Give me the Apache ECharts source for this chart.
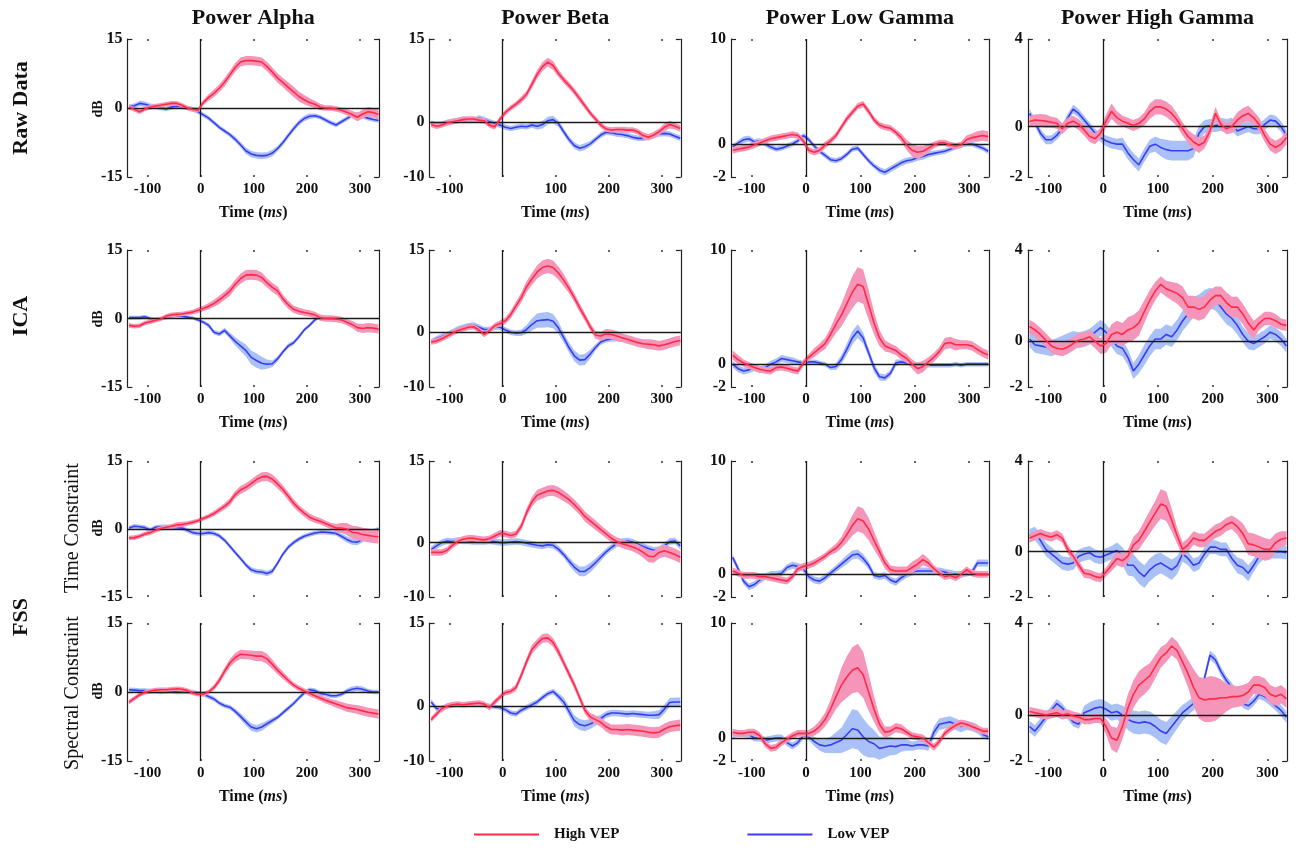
<!DOCTYPE html>
<html>
<head>
<meta charset="utf-8">
<script src="https://cdn.jsdelivr.net/npm/echarts@6/dist/echarts.min.js"></script>
<style>
html,body{margin:0;padding:0;background:#fff;}
#chart{width:1298px;height:851px;}
</style>
</head>
<body>
<div id="chart"></div>
<script>
// ---------------- data ----------------
const times = [-135,-125,-115,-105,-95,-85,-75,-65, -55,-45,-35,-25,-15,-5,5,15, 25,35,45,55,65,75,85,95, 105,115,125,135,145,155,165,175, 185,195,205,215,225,235,245,255, 265,275,285,295,305,315,325,335];
const xTicks = [-100, 0, 100, 200, 300];
const colTitles = ['Power Alpha', 'Power Beta', 'Power Low Gamma', 'Power High Gamma'];
const rowNames = ['Raw Data', 'ICA', 'FSS'];
const subRowNames = ['Time Constraint', 'Spectral Constraint'];
const yMaxByCol = [15, 15, 10, 4];
const yMinByCol = [-15, -10, -2, -2];
const yMinLabelByCol = ['-15', '-10', '-2', '-2'];
const seriesNames = ['High VEP', 'Low VEP'];

// Raw data
const rawAlphaHigh = [0.2,-0.3,-0.8,-0.2,0.2,0.4,0.6,0.8, 1.0,1.0,0.6,0.0,-0.3,-0.5,1.2,2.3, 3.2,4.3,5.6,7.2,8.8,10.0,10.3,10.3, 10.2,10.0,9.0,7.8,6.5,5.5,4.5,3.5, 2.5,1.8,1.2,0.8,0.2,0.0,0.0,-0.2, -0.5,-0.9,-1.4,-2.0,-1.3,-0.8,-1.0,-1.4];
const rawAlphaHighErr = [0.5,0.5,0.5,0.5,0.5,0.5,0.5,0.5, 0.5,0.5,0.5,0.5,0.5,0.5,0.6,0.7, 0.8,0.8,0.9,0.9,1.0,1.0,1.0,1.0, 1.0,1.0,1.0,1.0,1.0,1.0,1.1,1.1, 1.1,1.0,0.9,0.8,0.7,0.6,0.6,0.6, 0.6,0.7,0.8,0.9,1.0,1.0,1.0,1.0];
const rawAlphaLow = [0.3,0.5,1.0,0.8,0.5,0.3,0.0,-0.2, 0.2,0.4,0.3,0.0,-0.3,-0.8,-1.5,-2.2, -3.2,-4.2,-5.0,-5.8,-6.8,-8.0,-9.3,-10.0, -10.3,-10.4,-10.3,-9.8,-8.8,-7.5,-6.0,-4.5, -3.2,-2.3,-1.8,-1.7,-2.0,-2.6,-3.2,-3.7, -3.0,-2.3,-1.6,-1.3,-1.8,-2.2,-2.5,-2.7];
const rawAlphaLowErr = [0.5,0.5,0.6,0.6,0.5,0.5,0.5,0.5, 0.5,0.5,0.5,0.5,0.5,0.5,0.5,0.5, 0.5,0.5,0.5,0.5,0.6,0.6,0.7,0.7, 0.7,0.7,0.7,0.7,0.6,0.6,0.6,0.6, 0.6,0.6,0.6,0.5,0.5,0.5,0.5,0.5, 0.5,0.5,0.5,0.5,0.5,0.5,0.5,0.5];

const rawBetaHigh = [-0.5,-0.8,-0.6,-0.2,0.0,0.2,0.4,0.5, 0.5,0.3,0.2,-0.6,-0.9,0.5,1.7,2.5, 3.2,4.0,5.0,6.8,8.6,10.0,10.8,10.2, 8.8,7.6,6.6,5.5,4.2,2.9,1.6,0.5, -0.6,-1.3,-1.5,-1.4,-1.4,-1.5,-1.5,-1.8, -2.5,-2.8,-2.4,-1.8,-1.0,-0.5,-0.8,-1.2];
const rawBetaHighErr = [0.5,0.5,0.5,0.5,0.5,0.5,0.5,0.5, 0.5,0.5,0.5,0.5,0.5,0.5,0.5,0.5, 0.5,0.6,0.6,0.7,0.8,0.8,0.8,0.8, 0.7,0.6,0.6,0.6,0.6,0.6,0.5,0.5, 0.5,0.5,0.5,0.5,0.5,0.5,0.5,0.5, 0.6,0.6,0.6,0.6,0.7,0.7,0.6,0.6];
const rawBetaLow = [-0.3,-0.6,-0.4,-0.1,0.1,0.3,0.5,0.4, 0.3,0.7,0.4,0.0,-0.3,-0.6,-1.0,-1.2, -1.0,-0.8,-0.9,-0.6,-0.8,-0.5,0.2,0.4, -0.3,-1.8,-3.2,-4.3,-4.8,-4.5,-4.0,-3.2, -2.4,-1.9,-2.0,-2.2,-2.3,-2.5,-2.8,-3.0, -3.0,-2.8,-2.5,-2.2,-2.1,-2.2,-2.6,-3.0];
const rawBetaLowErr = [0.6,0.6,0.5,0.5,0.5,0.5,0.5,0.5, 0.5,0.5,0.5,0.5,0.5,0.5,0.5,0.5, 0.5,0.5,0.5,0.5,0.6,0.7,0.7,0.7, 0.6,0.6,0.6,0.6,0.6,0.6,0.5,0.5, 0.5,0.5,0.5,0.5,0.5,0.5,0.5,0.5, 0.5,0.5,0.5,0.5,0.5,0.5,0.5,0.5];

const rawLowGHigh = [-0.6,-0.5,-0.4,-0.3,-0.1,0.1,0.3,0.5, 0.6,0.7,0.8,0.9,0.8,0.3,-0.6,-0.8, -0.6,-0.1,0.3,0.8,1.6,2.4,3.0,3.6, 3.8,3.1,2.3,1.8,1.6,1.5,1.1,0.6, -0.1,-0.6,-0.8,-0.7,-0.4,-0.1,0.1,0.1, -0.1,-0.2,-0.1,0.4,0.6,0.7,0.8,0.7];
const rawLowGHighErr = [0.3,0.3,0.3,0.3,0.3,0.3,0.3,0.3, 0.3,0.3,0.3,0.3,0.3,0.3,0.3,0.3, 0.3,0.3,0.3,0.3,0.3,0.3,0.3,0.3, 0.3,0.3,0.3,0.3,0.3,0.3,0.3,0.4, 0.5,0.6,0.6,0.5,0.4,0.3,0.3,0.3, 0.3,0.3,0.3,0.4,0.4,0.5,0.5,0.5];
const rawLowGLow = [-0.3,0.1,0.4,0.5,0.2,0.3,0.0,-0.3, -0.5,-0.4,-0.2,0.0,0.3,0.8,0.4,-0.2, -0.7,-1.1,-1.5,-1.6,-1.4,-1.0,-0.5,-0.4, -1.0,-1.6,-2.1,-2.5,-2.7,-2.4,-2.1,-1.8, -1.6,-1.5,-1.3,-1.2,-1.0,-0.9,-0.8,-0.7, -0.5,-0.3,-0.1,0.0,0.0,-0.2,-0.4,-0.7];
const rawLowGLowErr = [0.25,0.25,0.3,0.3,0.25,0.25,0.25,0.25, 0.25,0.25,0.25,0.25,0.25,0.25,0.25,0.25, 0.25,0.25,0.25,0.25,0.25,0.25,0.25,0.25, 0.25,0.25,0.25,0.3,0.3,0.3,0.3,0.3, 0.3,0.3,0.3,0.3,0.3,0.25,0.25,0.25, 0.25,0.25,0.25,0.25,0.25,0.25,0.25,0.25];

const rawHighGHigh = [0.23,0.3,0.28,0.25,0.2,0.15,-0.1,0.15, 0.25,0.1,-0.15,-0.45,-0.55,-0.3,0.25,0.7, 0.4,0.25,0.15,0.05,0.15,0.35,0.7,0.9, 0.9,0.8,0.6,0.3,-0.1,-0.45,-0.7,-0.85, -0.7,-0.2,0.6,0.1,-0.1,0.0,0.3,0.5, 0.6,0.4,0.1,-0.4,-0.8,-0.95,-0.8,-0.5];
const rawHighGHighErr = [0.25,0.25,0.3,0.3,0.25,0.25,0.25,0.25, 0.25,0.25,0.25,0.25,0.25,0.25,0.3,0.35, 0.3,0.25,0.25,0.25,0.25,0.3,0.35,0.35, 0.35,0.35,0.35,0.3,0.3,0.3,0.35,0.35, 0.3,0.3,0.3,0.25,0.25,0.3,0.35,0.35, 0.35,0.3,0.3,0.3,0.3,0.3,0.3,0.3];
const rawHighGLow = [0.6,0.2,-0.3,-0.6,-0.6,-0.4,-0.1,0.4, 0.8,0.6,0.3,0.0,-0.3,-0.5,-0.65,-0.75, -0.8,-0.8,-1.2,-1.5,-1.75,-1.3,-0.9,-0.8, -0.95,-1.05,-1.1,-1.1,-1.1,-1.1,-1.0,-0.3, 0.0,0.05,0.05,0.1,0.05,0.1,-0.2,-0.1, 0.0,-0.1,-0.1,0.1,0.3,0.25,0.0,-0.4];
const rawHighGLowErr = [0.2,0.2,0.2,0.2,0.2,0.2,0.2,0.2, 0.2,0.2,0.2,0.2,0.2,0.2,0.25,0.25, 0.25,0.3,0.3,0.3,0.3,0.3,0.3,0.35, 0.4,0.45,0.45,0.45,0.45,0.45,0.4,0.35, 0.3,0.3,0.3,0.3,0.3,0.3,0.25,0.25, 0.25,0.25,0.25,0.25,0.25,0.25,0.25,0.25];

// ICA
const icaAlphaHigh = [-1.5,-1.7,-1.6,-1.0,-0.7,-0.4,-0.1,0.5, 0.8,0.9,1.0,1.2,1.4,1.8,2.2,2.7, 3.3,4.1,5.0,6.0,7.5,8.7,9.5,9.6, 9.5,9.0,7.8,6.8,6.0,4.3,3.0,2.0, 1.6,1.3,1.1,0.8,0.2,0.0,0.0,-0.1, -0.3,-0.8,-1.3,-2.0,-2.2,-2.0,-2.1,-2.3];
const icaAlphaHighErr = [0.5,0.5,0.5,0.5,0.5,0.5,0.5,0.5, 0.5,0.5,0.5,0.5,0.5,0.6,0.6,0.7, 0.8,0.9,0.9,1.0,1.0,1.1,1.1,1.1, 1.1,1.1,1.0,1.0,1.0,0.9,0.9,0.8, 0.8,0.7,0.7,0.7,0.7,0.7,0.7,0.7, 0.7,0.7,0.8,0.9,1.0,1.0,1.0,1.0];
const icaAlphaLow = [0.2,0.2,0.2,0.4,0.0,-0.2,0.0,0.2, 0.5,0.6,0.5,0.3,0.1,-0.3,-0.8,-1.5, -3.0,-3.4,-2.6,-3.8,-5.0,-6.0,-7.0,-8.5, -9.2,-9.8,-10.0,-9.9,-8.8,-7.3,-6.0,-5.3, -4.0,-2.5,-1.5,-0.3,0.3,0.2,0.0,-0.3, -0.6,-1.0,-1.4,-1.8,-2.0,-2.2,-2.4,-2.5];
const icaAlphaLowErr = [0.4,0.4,0.4,0.4,0.4,0.4,0.4,0.4, 0.4,0.4,0.4,0.4,0.4,0.4,0.4,0.5, 0.5,0.5,0.6,0.7,0.9,1.1,1.3,1.5, 1.6,1.4,1.0,0.7,0.6,0.5,0.5,0.5, 0.5,0.4,0.4,0.4,0.4,0.4,0.4,0.4, 0.4,0.4,0.4,0.4,0.4,0.4,0.4,0.4];

const icaBetaHigh = [-1.8,-1.6,-1.2,-0.7,-0.2,0.3,0.6,0.9, 1.0,0.4,-0.4,0.3,1.2,1.6,2.1,3.2, 4.8,6.3,8.3,9.7,11.0,11.8,12.1,11.8, 10.8,9.5,8.0,6.3,4.5,2.8,1.0,-0.5, -0.7,-0.3,-0.4,-0.7,-1.0,-1.3,-1.6,-1.9, -2.1,-2.2,-2.3,-2.5,-2.3,-2.0,-1.7,-1.5];
const icaBetaHighErr = [0.5,0.5,0.5,0.5,0.5,0.5,0.5,0.5, 0.5,0.5,0.5,0.5,0.5,0.6,0.6,0.7, 0.8,0.9,1.0,1.1,1.2,1.3,1.3,1.3, 1.2,1.1,0.9,0.8,0.8,0.7,0.7,0.7, 0.8,0.9,0.9,0.9,0.8,0.8,0.8,0.8, 0.8,0.9,0.9,0.9,0.9,0.9,0.9,0.9];
const icaBetaLow = [-1.8,-1.2,-0.8,-0.4,0.1,0.6,0.9,1.2, 1.3,0.9,0.5,0.5,0.9,0.9,0.4,0.0, -0.2,-0.1,0.5,1.4,2.1,2.2,2.3,2.0, 0.8,-1.0,-2.8,-4.3,-5.1,-5.0,-4.0,-2.8, -1.8,-1.4,-1.2,-1.2,-1.3,-1.4,-1.5,-1.7, -1.9,-2.1,-2.2,-2.3,-2.2,-2.0,-1.8,-1.6];
const icaBetaLowErr = [0.5,0.5,0.5,0.5,0.5,0.5,0.5,0.5, 0.5,0.5,0.5,0.5,0.5,0.5,0.5,0.5, 0.5,0.6,0.8,1.1,1.3,1.4,1.4,1.3, 1.1,0.9,0.9,1.0,1.0,1.0,0.8,0.6, 0.5,0.5,0.5,0.5,0.5,0.5,0.5,0.5, 0.5,0.5,0.5,0.5,0.5,0.5,0.5,0.5];

const icaLowGHigh = [0.8,0.4,0.1,-0.1,-0.3,-0.45,-0.55,-0.6, -0.3,-0.25,-0.35,-0.5,-0.6,0.1,0.6,1.0, 1.4,1.8,2.6,3.5,4.3,5.3,6.3,7.0, 6.8,5.2,3.6,2.3,1.6,1.4,1.2,0.8, 0.5,0.0,-0.4,-0.2,0.2,0.6,1.1,1.8, 1.9,1.7,1.7,1.7,1.6,1.3,1.0,0.8];
const icaLowGHighErr = [0.4,0.4,0.3,0.3,0.3,0.3,0.3,0.3, 0.3,0.3,0.3,0.3,0.3,0.3,0.3,0.4, 0.4,0.5,0.6,0.8,1.0,1.2,1.4,1.5, 1.5,1.3,1.0,0.7,0.5,0.4,0.4,0.4, 0.4,0.4,0.5,0.5,0.4,0.4,0.4,0.5, 0.5,0.5,0.4,0.4,0.4,0.4,0.4,0.4];
const icaLowGLow = [0.0,-0.4,-0.6,-0.5,-0.3,-0.5,-0.3,0.0, 0.2,0.5,0.4,0.3,0.2,0.1,0.2,0.2, 0.1,0.0,-0.3,-0.2,0.4,1.3,2.3,2.9, 2.3,1.0,-0.3,-1.1,-1.2,-0.8,0.1,0.2, 0.1,0.0,0.0,0.0,-0.1,-0.1,-0.1,-0.1, -0.1,0.0,-0.1,0.0,0.0,0.0,0.0,0.0];
const icaLowGLowErr = [0.3,0.3,0.3,0.3,0.3,0.3,0.3,0.3, 0.3,0.3,0.3,0.3,0.2,0.2,0.2,0.2, 0.2,0.2,0.2,0.3,0.4,0.5,0.6,0.6, 0.5,0.4,0.4,0.3,0.3,0.3,0.3,0.2, 0.2,0.2,0.2,0.2,0.2,0.2,0.2,0.2, 0.2,0.2,0.2,0.2,0.2,0.2,0.2,0.2];

const icaHighGHigh = [0.65,0.5,0.3,0.05,-0.2,-0.3,-0.35,-0.25, -0.1,0.05,0.1,0.2,0.0,-0.2,-0.1,0.3, 0.4,0.3,0.5,0.6,0.8,1.3,1.8,2.2, 2.5,2.3,2.2,2.1,1.9,1.5,1.5,1.4, 1.5,1.8,2.0,2.0,1.7,1.5,1.5,1.2, 0.8,0.5,0.8,1.0,1.0,0.9,0.75,0.7];
const icaHighGHighErr = [0.3,0.3,0.3,0.3,0.3,0.3,0.3,0.3, 0.3,0.3,0.3,0.3,0.3,0.35,0.4,0.45, 0.5,0.5,0.55,0.55,0.55,0.5,0.45,0.4, 0.35,0.35,0.4,0.45,0.5,0.5,0.5,0.5, 0.5,0.45,0.4,0.4,0.45,0.45,0.45,0.45, 0.45,0.4,0.3,0.3,0.3,0.3,0.25,0.25];
const icaHighGLow = [0.1,-0.15,-0.2,-0.25,-0.3,-0.2,-0.1,0.0, 0.1,0.05,0.1,0.2,0.4,0.6,0.4,0.1, -0.2,-0.3,-0.7,-1.3,-1.0,-0.6,-0.2,0.1, 0.1,0.3,0.2,0.5,0.9,1.2,1.5,1.6, 1.8,1.9,1.8,1.5,1.2,1.0,0.7,0.3, 0.0,-0.1,0.05,0.2,0.4,0.3,0.1,-0.2];
const icaHighGLowErr = [0.35,0.35,0.35,0.35,0.35,0.35,0.35,0.35, 0.35,0.35,0.35,0.35,0.35,0.35,0.35,0.35, 0.35,0.35,0.35,0.35,0.4,0.45,0.45,0.45, 0.45,0.45,0.45,0.45,0.45,0.45,0.45,0.45, 0.45,0.45,0.45,0.45,0.45,0.4,0.4,0.35, 0.35,0.3,0.3,0.3,0.3,0.3,0.3,0.3];

// FSS - time constraint
const tcAlphaHigh = [-2.0,-1.9,-1.6,-1.1,-0.8,-0.3,0.1,0.4, 0.6,0.9,1.0,1.2,1.5,1.8,2.3,2.8, 3.4,4.2,5.0,6.0,7.6,8.6,9.2,10.0, 10.9,11.5,11.6,11.0,9.9,8.7,7.2,5.7, 4.5,3.5,2.6,2.1,1.7,1.2,0.7,0.2, 0.2,0.0,-0.7,-0.9,-1.2,-1.4,-1.6,-1.7];
const tcAlphaHighErr = [0.5,0.5,0.5,0.5,0.5,0.5,0.5,0.5, 0.5,0.6,0.6,0.5,0.5,0.5,0.5,0.5, 0.6,0.6,0.7,0.8,0.8,0.9,0.9,0.9, 0.9,1.0,1.0,1.0,1.0,0.9,0.9,0.9, 0.8,0.8,0.8,0.7,0.7,0.7,0.7,0.9, 1.1,1.3,1.4,1.5,1.5,1.5,1.5,1.5];
const tcAlphaLow = [0.2,0.6,0.5,0.3,-0.2,0.4,0.5,0.5, 0.4,0.3,0.2,-0.3,-0.8,-1.0,-1.0,-0.8, -1.0,-1.5,-2.5,-3.8,-5.2,-6.5,-7.9,-9.0, -9.4,-9.5,-9.8,-9.3,-7.5,-5.5,-4.0,-3.0, -2.2,-1.6,-1.2,-0.9,-0.7,-0.7,-0.8,-1.0, -1.6,-2.3,-2.8,-2.9,-2.3,-1.5,-0.5,0.0];
const tcAlphaLowErr = [0.5,0.5,0.5,0.5,0.5,0.5,0.5,0.5, 0.5,0.5,0.5,0.5,0.5,0.5,0.5,0.5, 0.5,0.5,0.5,0.5,0.5,0.5,0.5,0.6, 0.6,0.6,0.6,0.6,0.5,0.5,0.5,0.5, 0.5,0.5,0.5,0.5,0.5,0.5,0.5,0.5, 0.6,0.7,0.7,0.7,0.6,0.5,0.5,0.5];

const tcBetaHigh = [-1.8,-1.8,-1.8,-1.4,-0.5,0.2,0.6,0.8, 0.8,0.6,0.5,0.7,1.2,1.7,1.6,1.3, 1.6,3.0,5.5,7.5,8.7,9.1,9.5,9.6, 9.2,8.6,7.9,7.0,6.0,4.8,4.0,3.2, 2.4,1.6,0.8,0.2,-0.2,-0.5,-0.8,-1.2, -1.8,-2.5,-2.6,-1.8,-1.5,-1.8,-2.2,-2.7];
const tcBetaHighErr = [0.6,0.6,0.6,0.6,0.6,0.6,0.6,0.6, 0.6,0.6,0.6,0.6,0.6,0.6,0.6,0.6, 0.6,0.7,0.8,0.9,1.0,1.0,1.0,1.0, 1.0,1.0,0.9,0.9,0.9,0.9,0.9,0.9, 0.8,0.8,0.8,0.8,0.8,0.8,0.8,0.9, 1.0,1.1,1.1,1.1,1.1,1.1,1.1,1.1];
const tcBetaLow = [-1.3,-0.6,0.0,0.3,0.2,0.4,0.3,0.3, 0.2,0.2,0.2,0.3,0.2,0.0,0.0,0.1, 0.2,0.1,-0.1,-0.3,-0.5,-0.6,-0.4,-0.5, -1.2,-2.2,-3.4,-4.5,-5.3,-5.3,-4.6,-3.7, -2.7,-1.7,-0.9,-0.2,0.2,0.3,0.1,-0.3, -0.7,-1.1,-1.4,-1.3,-0.6,0.2,0.3,-0.6];
const tcBetaLowErr = [0.6,0.6,0.6,0.6,0.6,0.6,0.6,0.6, 0.6,0.6,0.6,0.6,0.6,0.6,0.6,0.6, 0.6,0.6,0.6,0.6,0.6,0.6,0.6,0.6, 0.6,0.6,0.7,0.8,0.9,0.9,0.9,0.8, 0.7,0.6,0.6,0.6,0.6,0.6,0.6,0.6, 0.6,0.6,0.6,0.6,0.6,0.6,0.6,0.6];

const tcLowGHigh = [0.3,0.1,-0.1,-0.1,-0.1,-0.2,-0.2,-0.3, -0.4,-0.5,-0.6,-0.2,0.5,0.7,0.8,1.0, 1.3,1.6,2.0,2.3,2.8,3.5,4.3,4.9, 4.7,4.0,3.0,2.0,1.0,0.4,0.3,0.3, 0.3,0.6,0.9,1.3,1.0,0.5,0.1,-0.2, -0.1,-0.3,0.0,0.4,0.1,0.0,0.0,0.0];
const tcLowGHighErr = [0.3,0.3,0.3,0.3,0.3,0.3,0.3,0.3, 0.3,0.3,0.3,0.3,0.3,0.3,0.3,0.3, 0.3,0.3,0.3,0.4,0.5,0.7,0.9,1.1, 1.1,1.0,0.8,0.6,0.5,0.4,0.4,0.4, 0.4,0.5,0.5,0.5,0.4,0.3,0.3,0.3, 0.3,0.3,0.3,0.3,0.3,0.3,0.3,0.3];
const tcLowGLow = [1.5,0.5,-0.6,-1.1,-0.9,-0.5,-0.2,0.0, 0.0,0.1,0.6,0.8,0.7,0.5,-0.2,-0.5, -0.6,-0.3,0.1,0.5,0.9,1.3,1.7,1.8, 1.4,0.8,-0.1,-0.2,-0.1,-0.5,-0.7,-0.3, 0.0,0.2,0.3,0.3,0.3,0.3,0.3,0.2, 0.1,0.0,0.0,0.1,0.2,1.0,1.0,1.0];
const tcLowGLowErr = [0.3,0.3,0.3,0.3,0.3,0.3,0.3,0.3, 0.3,0.3,0.3,0.3,0.3,0.3,0.3,0.3, 0.3,0.3,0.3,0.3,0.35,0.4,0.4,0.4, 0.4,0.35,0.3,0.3,0.3,0.3,0.3,0.3, 0.3,0.3,0.3,0.3,0.3,0.3,0.3,0.3, 0.3,0.3,0.3,0.3,0.3,0.3,0.3,0.3];

const tcHighGHigh = [0.6,0.7,0.8,0.7,0.65,0.75,0.6,0.1, -0.2,-0.6,-0.95,-1.0,-1.1,-1.15,-0.9,-0.6, -0.3,-0.4,-0.2,0.3,0.5,0.9,1.3,1.7, 2.1,2.0,1.4,0.7,0.1,0.3,0.6,0.5, 0.5,0.7,0.9,1.0,1.2,1.3,1.1,0.8, 0.35,0.3,0.2,0.1,0.1,0.4,0.55,0.6];
const tcHighGHighErr = [0.2,0.2,0.2,0.2,0.2,0.2,0.2,0.2, 0.2,0.2,0.2,0.2,0.2,0.2,0.2,0.25, 0.3,0.3,0.3,0.35,0.4,0.45,0.5,0.55, 0.65,0.65,0.5,0.35,0.3,0.3,0.3,0.3, 0.3,0.3,0.3,0.3,0.3,0.3,0.35,0.45, 0.5,0.5,0.5,0.5,0.45,0.4,0.35,0.3];
const tcHighGLow = [0.7,0.8,0.5,0.1,-0.1,-0.3,-0.5,-0.55, -0.5,-0.2,-0.1,-0.05,-0.2,-0.25,-0.15,-0.05, 0.05,-0.2,-0.6,-0.6,-0.9,-1.1,-0.8,-0.6, -0.5,-0.65,-0.8,-0.6,-0.1,-0.3,-0.6,-0.5, -0.1,0.2,0.2,0.1,0.1,-0.3,-0.6,-0.7, -0.95,-0.6,-0.2,0.0,0.0,0.0,0.0,-0.05];
const tcHighGLowErr = [0.3,0.3,0.3,0.3,0.3,0.3,0.3,0.3, 0.3,0.3,0.3,0.3,0.3,0.3,0.3,0.3, 0.35,0.4,0.45,0.5,0.5,0.5,0.5,0.5, 0.45,0.45,0.45,0.4,0.35,0.3,0.3,0.3, 0.3,0.3,0.3,0.3,0.3,0.3,0.35,0.35, 0.35,0.3,0.3,0.3,0.3,0.3,0.3,0.3];

// FSS - spectral constraint
const scAlphaHigh = [-2.2,-1.4,-0.6,-0.1,0.2,0.4,0.5,0.5, 0.6,0.7,0.6,0.3,-0.2,-0.5,-0.5,0.0, 1.0,2.5,4.5,6.3,7.5,8.2,8.1,8.0, 7.8,7.8,7.2,6.0,4.7,3.6,2.5,1.5, 0.8,0.2,-0.3,-0.8,-1.3,-1.8,-2.2,-2.6, -3.0,-3.4,-3.6,-3.8,-4.1,-4.4,-4.6,-4.8];
const scAlphaHighErr = [0.5,0.5,0.5,0.5,0.5,0.5,0.5,0.5, 0.5,0.5,0.5,0.5,0.5,0.5,0.5,0.5, 0.6,0.7,0.8,0.9,1.0,1.0,1.0,1.0, 1.1,1.1,1.1,1.0,0.9,0.8,0.7,0.6, 0.6,0.6,0.6,0.6,0.6,0.7,0.7,0.8, 0.8,0.9,0.9,1.0,1.0,1.0,1.0,1.0];
const scAlphaLow = [0.5,0.4,0.3,0.3,0.2,0.1,0.0,0.1, 0.2,0.0,0.0,0.0,0.0,-0.3,-0.5,-1.0, -1.5,-2.4,-3.0,-3.3,-4.2,-5.3,-6.5,-7.6, -8.0,-7.6,-6.9,-6.2,-5.5,-4.5,-3.5,-2.5, -1.3,-0.2,0.5,0.3,-0.3,-0.5,-0.8,-0.8, -0.5,0.2,0.6,0.8,0.6,0.2,0.0,0.0];
const scAlphaLowErr = [0.5,0.5,0.5,0.5,0.5,0.5,0.5,0.5, 0.5,0.5,0.5,0.5,0.5,0.5,0.5,0.5, 0.5,0.5,0.5,0.5,0.6,0.7,0.8,0.8, 0.8,0.8,0.7,0.6,0.5,0.5,0.5,0.5, 0.5,0.5,0.5,0.5,0.5,0.5,0.5,0.5, 0.5,0.5,0.6,0.6,0.6,0.5,0.5,0.5];

const scBetaHigh = [-2.5,-1.5,-0.5,-0.1,0.2,0.3,0.2,0.3, 0.4,0.5,0.3,-0.3,0.7,1.6,2.4,2.6, 3.3,5.5,8.0,10.2,11.3,12.2,12.3,11.5, 9.8,7.8,5.8,3.8,1.5,-0.8,-2.0,-2.5, -3.0,-3.8,-4.3,-4.3,-4.4,-4.3,-4.4,-4.5, -4.6,-4.8,-4.9,-4.8,-4.2,-3.8,-3.6,-3.5];
const scBetaHighErr = [0.5,0.5,0.5,0.5,0.5,0.5,0.5,0.5, 0.5,0.5,0.5,0.5,0.5,0.5,0.5,0.5, 0.6,0.7,0.7,0.8,0.8,0.8,0.8,0.8, 0.8,0.7,0.7,0.7,0.7,0.7,0.7,0.8, 0.8,0.9,0.9,0.9,1.0,1.0,1.0,1.0, 1.0,1.0,1.0,1.0,1.0,1.0,1.0,1.0];
const scBetaLow = [0.7,-0.5,-0.7,0.0,0.3,0.4,0.3,0.4, 0.5,0.4,0.2,0.0,-0.2,-0.3,-0.7,-1.3, -1.5,-0.8,-0.3,0.2,0.7,1.5,2.2,2.6, 1.7,0.7,-1.0,-2.7,-3.4,-3.6,-3.3,-2.8, -2.3,-1.6,-1.3,-1.3,-1.4,-1.5,-1.4,-1.5, -1.6,-1.7,-1.7,-1.6,-0.6,0.6,0.7,0.7];
const scBetaLowErr = [0.5,0.5,0.5,0.5,0.4,0.4,0.4,0.4, 0.4,0.4,0.4,0.4,0.4,0.4,0.5,0.5, 0.5,0.5,0.5,0.5,0.5,0.5,0.5,0.5, 0.6,0.8,0.9,1.0,1.0,1.0,0.9,0.8, 0.7,0.6,0.6,0.6,0.6,0.6,0.6,0.6, 0.6,0.6,0.7,0.8,0.8,0.8,0.8,0.8];

const scLowGHigh = [0.5,0.4,0.4,0.5,0.5,0.2,-0.5,-0.9, -0.8,-0.4,-0.1,0.2,0.4,0.4,0.4,0.6, 1.0,1.6,2.5,3.6,4.6,5.3,5.9,6.1, 5.5,4.0,2.5,1.2,0.5,0.6,0.9,0.8, 0.5,0.2,0.1,0.0,-0.4,-0.8,-0.3,0.4, 0.8,1.1,1.3,1.2,1.0,0.8,0.6,0.6];
const scLowGHighErr = [0.3,0.3,0.3,0.3,0.3,0.3,0.3,0.3, 0.3,0.3,0.3,0.3,0.3,0.3,0.3,0.4, 0.5,0.6,0.8,1.1,1.5,1.8,2.0,2.1, 2.0,1.6,1.1,0.7,0.5,0.4,0.4,0.4, 0.3,0.3,0.3,0.3,0.3,0.3,0.3,0.3, 0.3,0.3,0.3,0.3,0.3,0.3,0.3,0.3];
const scLowGLow = [0.3,0.4,0.4,0.3,0.0,0.0,-0.2,-0.1, 0.0,0.0,-0.4,-0.7,-0.4,0.2,0.1,-0.3, -0.6,-0.7,-0.6,-0.4,-0.2,0.3,0.8,0.7, 0.1,-0.3,-0.5,-0.9,-0.8,-0.7,-0.75,-0.6, -0.6,-0.7,-0.6,-0.6,-0.7,0.5,1.2,1.3, 1.4,1.2,1.0,1.1,1.0,0.8,0.3,0.1];
const scLowGLowErr = [0.3,0.3,0.3,0.3,0.3,0.3,0.3,0.3, 0.3,0.3,0.3,0.3,0.3,0.3,0.3,0.4, 0.5,0.6,0.7,0.9,1.1,1.4,1.7,1.7, 1.6,1.4,1.2,1.0,0.9,0.8,0.7,0.6, 0.5,0.4,0.4,0.4,0.4,0.5,0.5,0.5, 0.5,0.5,0.5,0.4,0.4,0.4,0.3,0.3];

const scHighGHigh = [0.15,0.1,0.05,0.0,0.05,0.1,0.0,0.05, -0.05,-0.1,-0.2,-0.2,-0.15,-0.15,-0.5,-1.0, -1.1,-0.5,0.3,0.9,1.3,1.5,1.7,2.1, 2.5,2.7,3.0,2.8,2.3,1.8,1.2,0.75, 0.65,0.7,0.7,0.75,0.75,0.8,0.8,0.85, 1.0,1.3,1.3,1.2,0.9,0.8,0.9,0.7];
const scHighGHighErr = [0.2,0.2,0.2,0.2,0.2,0.2,0.2,0.2, 0.2,0.2,0.2,0.2,0.2,0.2,0.35,0.5, 0.55,0.55,0.6,0.6,0.6,0.6,0.55,0.5, 0.45,0.4,0.4,0.4,0.5,0.6,0.8,0.9, 0.95,1.0,0.95,0.8,0.6,0.5,0.45,0.45, 0.4,0.4,0.4,0.4,0.4,0.4,0.4,0.4];
const scHighGLow = [-0.5,-0.7,-0.4,-0.1,0.2,0.5,0.3,0.0, -0.3,-0.4,0.1,0.2,0.3,0.35,0.25,0.1, 0.15,0.0,-0.2,-0.3,-0.35,-0.3,-0.35,-0.5, -0.7,-0.8,-0.5,-0.2,0.1,0.3,0.5,0.7, 1.6,2.6,2.4,1.9,1.5,1.2,0.8,0.5, 0.4,0.6,0.9,0.8,0.6,0.4,0.2,-0.1];
const scHighGLowErr = [0.25,0.25,0.25,0.2,0.2,0.2,0.2,0.2, 0.2,0.2,0.3,0.35,0.35,0.35,0.35,0.35, 0.35,0.4,0.45,0.5,0.5,0.5,0.5,0.5, 0.5,0.5,0.45,0.4,0.35,0.3,0.3,0.25, 0.2,0.2,0.2,0.2,0.2,0.2,0.2,0.2, 0.2,0.2,0.2,0.2,0.2,0.2,0.25,0.25];

// panels: [high, highErr, low, lowErr], row-major
const panelData = [
  [rawAlphaHigh, rawAlphaHighErr, rawAlphaLow, rawAlphaLowErr],
  [rawBetaHigh, rawBetaHighErr, rawBetaLow, rawBetaLowErr],
  [rawLowGHigh, rawLowGHighErr, rawLowGLow, rawLowGLowErr],
  [rawHighGHigh, rawHighGHighErr, rawHighGLow, rawHighGLowErr],
  [icaAlphaHigh, icaAlphaHighErr, icaAlphaLow, icaAlphaLowErr],
  [icaBetaHigh, icaBetaHighErr, icaBetaLow, icaBetaLowErr],
  [icaLowGHigh, icaLowGHighErr, icaLowGLow, icaLowGLowErr],
  [icaHighGHigh, icaHighGHighErr, icaHighGLow, icaHighGLowErr],
  [tcAlphaHigh, tcAlphaHighErr, tcAlphaLow, tcAlphaLowErr],
  [tcBetaHigh, tcBetaHighErr, tcBetaLow, tcBetaLowErr],
  [tcLowGHigh, tcLowGHighErr, tcLowGLow, tcLowGLowErr],
  [tcHighGHigh, tcHighGHighErr, tcHighGLow, tcHighGLowErr],
  [scAlphaHigh, scAlphaHighErr, scAlphaLow, scAlphaLowErr],
  [scBetaHigh, scBetaHighErr, scBetaLow, scBetaLowErr],
  [scLowGHigh, scLowGHighErr, scLowGLow, scLowGLowErr],
  [scHighGHigh, scHighGHighErr, scHighGLow, scHighGLowErr]
];

// ---------------- layout / style ----------------
const FONT = '"Liberation Serif", "Times New Roman", serif';
const GRID_LEFT = [127.4, 429.6, 731, 1027.8];
const GRID_W = [251.7, 251.2, 257.8, 259.3];
const GRID_TOP = [39, 250, 461, 623];
const GRID_H = [138, 137, 136, 138];
const X_MIN = -138, X_MAX = 336;
// first-row low/high gamma panels have a lower bottom edge in the figure
const yMinOverride = {2: -3.15, 3: -2.3};
const RED = '#ff2b45', PINK = '#f595b9', BLUE = '#3a3cf2', LBLUE = '#a9c1f6';
const AX = '#222';

const grids = [], xAxes = [], yAxes = [], series = [];

function bandRenderer(color) {
  return function (params, api) {
    if (params.dataIndexInside !== 0) return null;
    const n = params.dataInsideLength;
    const upper = [], lower = [];
    for (let k = 0; k < n; k++) {
      upper.push(api.coord([api.value(0, k), api.value(2, k)]));
      lower.push(api.coord([api.value(0, k), api.value(1, k)]));
    }
    return {
      type: 'polygon',
      shape: {points: upper.concat(lower.reverse()), smooth: 0},
      style: {fill: color, stroke: null},
      silent: true
    };
  };
}

panelData.forEach((pd, i) => {
  const row = Math.floor(i / 4), col = i % 4;
  const yMax = yMaxByCol[col];
  const yMin = (yMinOverride[i] !== undefined) ? yMinOverride[i] : yMinByCol[col];
  const minLabel = yMinLabelByCol[col];
  grids.push({left: GRID_LEFT[col], top: GRID_TOP[row], width: GRID_W[col], height: GRID_H[row], containLabel: false});
  const showX = row !== 2;
  xAxes.push({
    type: 'value', gridIndex: i, min: X_MIN, max: X_MAX, position: 'bottom',
    axisLine: {show: false, onZero: false},
    axisTick: {show: true, inside: true, length: 2, customValues: xTicks, lineStyle: {color: '#333', width: 1.5}},
    axisLabel: {show: showX, customValues: xTicks, margin: 5,
      formatter: v => (i === 1 && v === 0) ? '' : String(v),
      fontFamily: FONT, fontWeight: 'bold', fontSize: 15, color: '#111'},
    splitLine: {show: false},
    name: showX ? '{n|Time (}{i|ms}{n|)}' : '', nameLocation: 'middle', nameGap: 28,
    nameTextStyle: {rich: {
      n: {fontFamily: FONT, fontWeight: 'bold', fontSize: 16, color: '#111'},
      i: {fontFamily: FONT, fontWeight: 'bold', fontStyle: 'italic', fontSize: 16, color: '#111'}
    }}
  });
  xAxes.push({
    type: 'value', gridIndex: i, min: X_MIN, max: X_MAX, position: 'top',
    axisLine: {show: false, onZero: false},
    axisTick: {show: true, inside: true, length: 2, customValues: xTicks, lineStyle: {color: '#333', width: 1.5}},
    axisLabel: {show: false}, splitLine: {show: false}
  });
  yAxes.push({
    type: 'value', gridIndex: i, min: yMin, max: yMax, position: 'left',
    axisLine: {show: true, onZero: false, lineStyle: {color: AX, width: 1.2}},
    axisTick: {show: true, inside: true, length: 5, customValues: [yMin, yMax], lineStyle: {color: AX, width: 1.2}},
    axisLabel: {customValues: [yMin, 0, yMax], margin: 5,
      formatter: v => Math.abs(v - yMin) < 1e-9 ? minLabel : String(v),
      fontFamily: FONT, fontWeight: 'bold', fontSize: 16, color: '#111'},
    splitLine: {show: false}
  });
  yAxes.push({
    type: 'value', gridIndex: i, min: yMin, max: yMax, position: 'right',
    axisLine: {show: true, onZero: false, lineStyle: {color: AX, width: 1.2}},
    axisTick: {show: true, inside: true, length: 5, customValues: [yMin, yMax], lineStyle: {color: AX, width: 1.2}},
    axisLabel: {show: false}, splitLine: {show: false}
  });
  const xi = 2 * i, yi = 2 * i;
  // zero guides
  series.push({
    type: 'line', name: 'guide' + i, xAxisIndex: xi, yAxisIndex: yi, data: [[0, 0]],
    symbol: 'none', lineStyle: {width: 0}, silent: true, z: 1,
    markLine: {silent: true, symbol: ['none', 'none'], label: {show: false}, animation: false,
      lineStyle: {color: '#1a1a1a', width: 1.3, type: 'solid'},
      data: [{xAxis: 0}, {yAxis: 0}]}
  });
  const [hi, hiE, lo, loE] = pd;
  const addBand = (center, err, color, key, z) => {
    series.push({
      type: 'custom', name: key + i, xAxisIndex: xi, yAxisIndex: yi,
      data: times.map((t, k) => [t, center[k] - err[k], center[k] + err[k]]),
      encode: {x: 0, y: [1, 2]},
      renderItem: bandRenderer(color), silent: true, z
    });
  };
  const addLine = (center, color, name, z) => {
    series.push({
      type: 'line', name, xAxisIndex: xi, yAxisIndex: yi,
      data: times.map((t, k) => [t, center[k]]),
      symbol: 'none', smooth: false, lineStyle: {color, width: 1.6}, itemStyle: {color}, z
    });
  };
  addBand(lo, loE, LBLUE, 'lb', 2);
  addLine(lo, BLUE, seriesNames[1], 3);
  addBand(hi, hiE, PINK, 'hb', 4);
  addLine(hi, RED, seriesNames[0], 5);
});

// text decorations
const graphics = [];
colTitles.forEach((t, c) => {
  graphics.push({type: 'text', x: GRID_LEFT[c] + GRID_W[c] / 2, y: 18,
    style: {text: t, font: 'bold 22px ' + FONT, fill: '#111', textAlign: 'center', textVerticalAlign: 'middle'}});
});
const rowLabelY = [108, 316, 617];
rowNames.forEach((t, r) => {
  graphics.push({type: 'text', x: 21, y: rowLabelY[r], rotation: Math.PI / 2,
    style: {text: t, font: 'bold 22px ' + FONT, fill: '#111', textAlign: 'center', textVerticalAlign: 'middle'}});
});
const subRowY = [528, 693];
subRowNames.forEach((t, r) => {
  graphics.push({type: 'text', x: 73, y: subRowY[r], rotation: Math.PI / 2,
    style: {text: t, font: '20px ' + FONT, fill: '#111', textAlign: 'center', textVerticalAlign: 'middle'}});
});
const dbY = [109, 319, 528, 691];
dbY.forEach(y => {
  graphics.push({type: 'text', x: 98, y: y, rotation: Math.PI / 2,
    style: {text: 'dB', font: 'bold 14px ' + FONT, fill: '#111', textAlign: 'center', textVerticalAlign: 'middle'}});
});

const option = {
  animation: false,
  backgroundColor: '#fff',
  grid: grids,
  xAxis: xAxes,
  yAxis: yAxes,
  series: series,
  graphic: graphics,
  legend: {
    data: seriesNames.map(n => ({name: n, icon: 'rect'})),
    left: 469, top: 822, itemWidth: 65, itemHeight: 2, itemGap: 128,
    textStyle: {fontFamily: FONT, fontWeight: 'bold', fontSize: 15, color: '#111', padding: [0, 0, 0, 10]},
    selectedMode: false
  }
};

const chart = echarts.init(document.getElementById('chart'), null, {renderer: 'canvas'});
chart.setOption(option);
</script>
</body>
</html>
